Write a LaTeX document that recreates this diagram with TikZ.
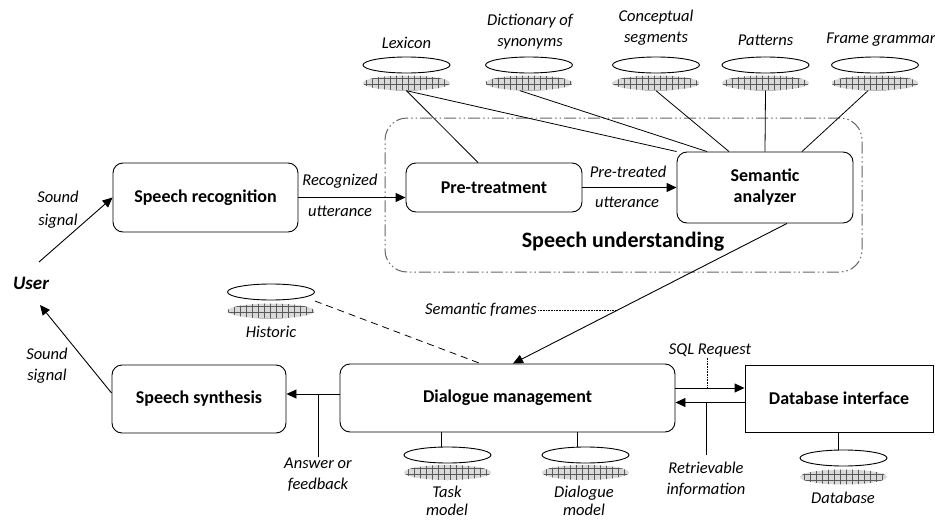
\documentclass[tikz,border=0pt]{standalone}
\usepackage{fontspec}
\setmainfont{Carlito}
\usepackage{tikz}
\usetikzlibrary{shapes.geometric, arrows.meta, patterns.meta, positioning}

\begin{document}
\begin{tikzpicture}[x=1pt, y=-1pt,
  box/.style={rectangle, rounded corners=10pt, draw, line width=0.9pt, align=center, font=\fontsize{18}{21}\selectfont\bfseries},
  lbl/.style={align=center, inner sep=1pt, font=\fontsize{16.5}{21}\selectfont\itshape},
  kbtop/.style={ellipse, draw, line width=0.9pt, fill=white, minimum width=87pt, minimum height=16pt, inner sep=0pt},
  kbgrid/.style={ellipse, minimum width=87pt, minimum height=15pt, inner sep=0pt, preaction={fill=gray!30}, pattern={Hatch[angle=0, distance=6pt, line width=0.4pt]}, pattern color=gray!70!black},
  understand/.style={draw=gray!80!black, line width=1pt, rounded corners=22pt, dash pattern=on 12pt off 3pt on 1.5pt off 3pt on 1.5pt off 3pt, minimum width=477pt, minimum height=154pt},
  arrow/.style={-{Triangle[length=10pt, width=9pt]}, line width=0.9pt},
  link/.style={line width=0.8pt}
]
  \useasboundingbox (0,0) rectangle (935,522);

  \node[understand] (su) at (623.5,195) {};
  \node[font=\fontsize{22}{26}\selectfont\bfseries] (sutitle) at (623,242) {Speech understanding};

  \node[box, minimum width=185pt, minimum height=69pt] (rec) at (205.5,197.5) {Speech recognition};
  \node[box, minimum width=176pt, minimum height=49pt] (pre) at (494,187.5) {Pre-treatment};
  \node[box, minimum width=176pt, minimum height=71pt] (sem) at (765,187.5) {Semantic\\analyzer};
  \node[box, minimum width=174pt, minimum height=68pt] (syn) at (199,399) {Speech synthesis};
  \node[box, minimum width=335pt, minimum height=68pt] (dm) at (507.5,398) {Dialogue management};
  \node[box, rounded corners=0pt, minimum width=188pt, minimum height=67pt] (dbi) at (839,398.5) {Database interface};

  \node[font=\fontsize{19}{22}\selectfont\bfseries\itshape] (user) at (31,283) {User};
  \node[lbl] (snd1) at (58,210) {Sound\\[2pt]signal};
  \node[lbl] (snd2) at (47,366) {Sound\\signal};

  \node[kbtop] (lex) at (406.5,65) {};
  \node[kbgrid] (lexg) at (406.5,83) {};
  \node[lbl] (lexl) at (406.5,43) {Lexicon};
  \node[kbtop] (dict) at (529,65) {};
  \node[kbgrid] (dictg) at (529,83) {};
  \node[lbl] (dictl) at (530,31.5) {Dictionary of\\synonyms};
  \node[kbtop] (conc) at (656,65) {};
  \node[kbgrid] (concg) at (656,83) {};
  \node[lbl] (concl) at (656,28) {Conceptual\\segments};
  \node[kbtop] (pat) at (765.5,65) {};
  \node[kbgrid] (patg) at (765.5,83) {};
  \node[lbl] (patl) at (765.5,40) {Patterns};
  \node[kbtop] (fg) at (875,65) {};
  \node[kbgrid] (fgg) at (875,83) {};
  \node[lbl] (fgl) at (881,40) {Frame grammar};

  \node[kbtop] (hist) at (271,292) {};
  \node[kbgrid] (histg) at (271,311) {};
  \node[lbl] (histl) at (271,332) {Historic};
  \node[kbtop] (task) at (447.5,455) {};
  \node[kbgrid] (taskg) at (447.5,472.5) {};
  \node[lbl, font=\fontsize{16.5}{18}\selectfont\itshape] (taskl) at (447,501) {Task\\model};
  \node[kbtop] (dmod) at (585.5,455) {};
  \node[kbgrid] (dmodg) at (585.5,472.5) {};
  \node[lbl, font=\fontsize{16.5}{18}\selectfont\itshape] (dmodl) at (584,501) {Dialogue\\model};
  \node[kbtop] (db) at (843.5,458) {};
  \node[kbgrid] (dbg) at (843.5,477) {};
  \node[lbl] (dbl) at (843,498) {Database};

  \draw[link] (lexg.south) -- ([xshift=-16pt]pre.north);
  \draw[link] (lexg.south) -- (sem.north west);
  \draw[link] ([xshift=-9pt]dictg.south) -- ([xshift=-58pt]sem.north);
  \draw[link] (concg.south) -- ([xshift=-36pt]sem.north);
  \draw[link] (patg.south) -- (sem.north);
  \draw[link] ([xshift=-7pt]fgg.south) -- ([xshift=37pt]sem.north);

  \draw[arrow] ([shift={(8pt,21pt)}]user.center) -- (rec.west);
  \draw[arrow] ([yshift=6pt]syn.west) -- ([shift={(9pt,-22pt)}]user.center);

  \draw[arrow] (rec.east) -- (rec.east -| pre.west);
  \node[lbl] (recu1) at (340,181) {Recognized};
  \node[lbl] (recu2) at (340,211) {utterance};
  \draw[arrow] (pre.east) -- (pre.east -| sem.west);
  \node[lbl] (preu1) at (628,172) {Pre-treated};
  \node[lbl] (preu2) at (627,202) {utterance};

  \draw[arrow] ([xshift=22pt]sem.south) -- coordinate[pos=0.62] (fr) ([xshift=5.5pt]dm.north);
  \node[lbl] (frl) at (481,310) {Semantic frames};
  \draw[densely dotted, line width=0.6pt] (frl.east) -- (frl.east -| fr);
  \draw[link, dash pattern=on 7pt off 5pt] ([yshift=-9pt]hist.east) -- ([xshift=-27pt]dm.north);

  \draw[arrow] ([yshift=4pt]dm.west) -- ([yshift=4pt]dm.west -| syn.east);
  \node[lbl] (ans) at (318,474.5) {Answer or\\feedback};
  \draw[link] (ans.north) -- (ans.north |- 0,394);

  \draw[arrow] ([yshift=10pt]dm.east) -- ([yshift=10pt]dm.east -| dbi.west);
  \draw[arrow] ([yshift=-4pt]dbi.west) -- ([yshift=-4pt]dbi.west -| dm.east);
  \node[lbl] (sql) at (710,350) {SQL Request};
  \draw[densely dotted, line width=0.6pt] ([xshift=-3pt]sql.south) -- ([xshift=-3pt]sql.south |- 0,388);
  \node[lbl] (ret) at (706,479) {Retrievable\\information};
  \draw[link] ([yshift=6pt]ret.north) -- (ret.north |- 0,402);

  \draw[link] ([xshift=-6pt]task.north) -- ([xshift=-6pt]task.north |- dm.south);
  \draw[link] ([xshift=-8pt]dmod.north) -- ([xshift=-8pt]dmod.north |- dm.south);
  \draw[link] ([xshift=-5.5pt]db.north) -- ([xshift=-5.5pt]db.north |- dbi.south);
\end{tikzpicture}
\end{document}
